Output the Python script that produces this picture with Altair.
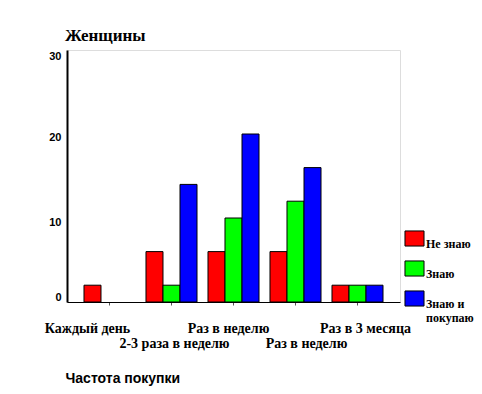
import json
import altair as alt
import pandas as pd

categories = ["Каждый день", "2-3 раза в неделю", "Раз в неделю", "Раз в неделю", "Раз в 3 месяца"]
series = ["Не знаю", "Знаю", "Знаю и покупаю"]
ne_znayu = [2, 6, 6, 6, 2]
znayu = [0, 2, 10, 12, 2]
znayu_pokupayu = [0, 14, 20, 16, 2]
colors = ["#ff0000", "#00ff00", "#0000ff"]
y_ticks = [0, 10, 20, 30]

rows = []
for s, vals in zip(series, [ne_znayu, znayu, znayu_pokupayu]):
    for i, v in enumerate(vals):
        if v > 0:
            rows.append({"idx": i, "series": s, "value": v})
df = pd.DataFrame(rows)

labels_js = json.dumps(categories, ensure_ascii=False)
label_expr = (
    f"datum.value % 2 == 1 ? ['', {labels_js}[datum.value]] : {labels_js}[datum.value]"
)
legend_expr = "datum.label == 'Знаю и покупаю' ? ['Знаю и', 'покупаю'] : datum.label"

x_axis = alt.Axis(
    title="Частота покупки",
    titleFont="Liberation Sans",
    titleFontWeight="bold",
    titleFontSize=14,
    titleAnchor="start",
    titleAlign="left",
    titleBaseline="bottom",
    titleX=-2,
    titleY=83,
    labelExpr=label_expr,
    labelAngle=0,
    labelFont="Liberation Serif",
    labelFontWeight="bold",
    labelFontSize=14,
    labelColor="black",
    labelPadding=16,
    labelLineHeight=15,
    labelOverlap=False,
    labelLimit=300,
    labelOffset={
        "condition": [
            {"test": "datum.value == 0", "value": -22},
            {"test": "datum.value == 1", "value": 3},
            {"test": "datum.value == 2", "value": -5},
            {"test": "datum.value == 3", "value": 11},
        ],
        "value": 8,
    },
    domainColor="black",
    tickColor="#555555",
    tickSize=3,
    grid=False,
)

y_axis = alt.Axis(
    title=None,
    values=y_ticks,
    ticks=False,
    grid=False,
    labelFont="Liberation Sans",
    labelFontWeight="bold",
    labelFontSize=11,
    labelColor="black",
    labelPadding=6,
    labelOffset={
        "condition": [
            {"test": "datum.value == 0", "value": -5},
            {"test": "datum.value == 10", "value": 4},
            {"test": "datum.value == 20", "value": 3},
        ],
        "value": 6,
    },
    domainColor="black",
    domainWidth=2,
)

legend = alt.Legend(
    title=None,
    orient="none",
    legendX=338,
    legendY=179,
    symbolType="M-1.1,-0.87H1.1V0.87H-1.1Z",
    symbolSize=300,
    symbolStrokeColor="black",
    symbolStrokeWidth=1,
    symbolOpacity=1,
    labelFont="Liberation Serif",
    labelFontWeight="bold",
    labelFontSize=12,
    labelColor="black",
    labelBaseline="top",
    labelOffset=2,
    labelLimit=200,
    rowPadding=8,
    labelExpr=legend_expr,
)

chart = (
    alt.Chart(df)
    .mark_bar(stroke="black", strokeWidth=1, opacity=1)
    .encode(
        x=alt.X("idx:O", scale=alt.Scale(paddingInner=0.177, paddingOuter=0.274), axis=x_axis),
        xOffset=alt.XOffset(
            "series:N", scale=alt.Scale(domain=series, paddingInner=0, paddingOuter=0)
        ),
        y=alt.Y("value:Q", scale=alt.Scale(domain=[0, 30]), axis=y_axis),
        color=alt.Color("series:N", scale=alt.Scale(domain=series, range=colors), legend=legend),
    )
    .properties(
        width=333,
        height=252,
        title=alt.Title(
            "Женщины",
            anchor="start",
            frame="group",
            font="Liberation Serif",
            fontWeight="bold",
            fontSize=17,
            color="black",
            baseline="bottom",
            offset=7,
            dx=-2,
            dy=19,
        ),
        padding={"left": 59, "top": 42, "right": 74, "bottom": 84},
        autosize="none",
    )
    .configure_view(stroke="black", strokeWidth=1)
    .configure(background="white")
)

chart.save("out.html", embed_options={"renderer": "svg", "actions": False})
